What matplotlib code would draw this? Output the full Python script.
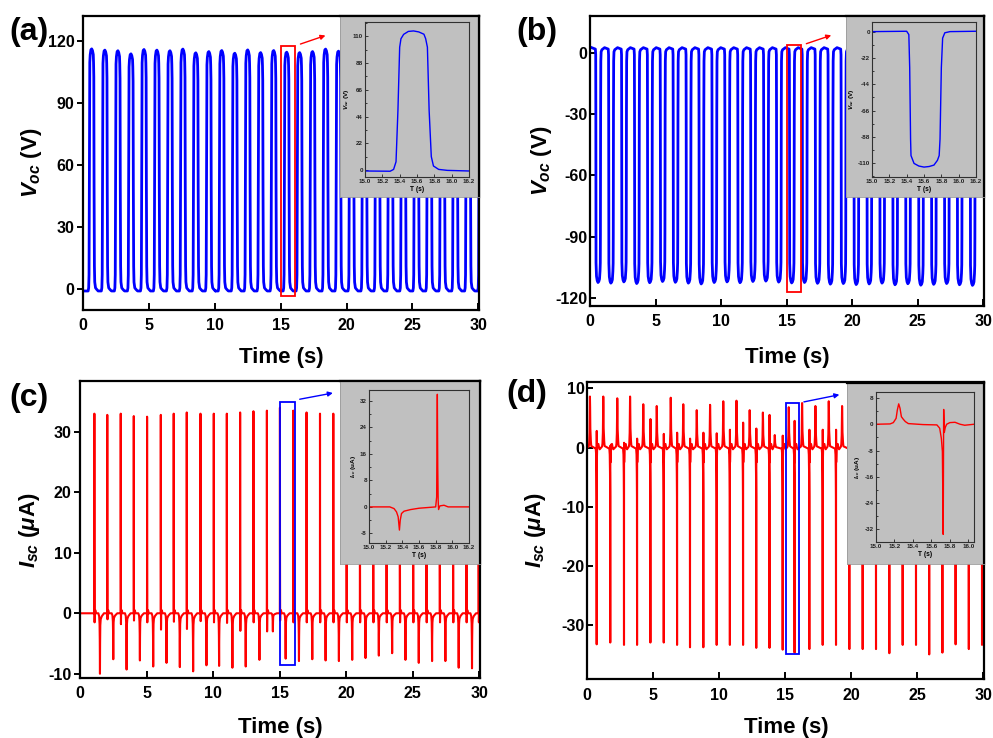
import numpy as np
import matplotlib
matplotlib.use('Agg')
import matplotlib.pyplot as plt
from matplotlib.ticker import AutoMinorLocator

plt.rcParams['font.family'] = ['Liberation Sans', 'DejaVu Sans']
plt.rcParams['font.weight'] = 'bold'
plt.rcParams['axes.unicode_minus'] = False
plt.rcParams['mathtext.fontset'] = 'custom'
plt.rcParams['mathtext.it'] = 'Liberation Sans:bold:italic'
plt.rcParams['mathtext.rm'] = 'Liberation Sans:bold'
plt.rcParams['mathtext.bf'] = 'Liberation Sans:bold'

W, H = 993, 738

# ---------------- data ----------------
# (a) Voc, one pulse as seen in the inset (15.0 - 16.2 s)
a_in_t = [15.00, 15.29, 15.33, 15.358, 15.38, 15.40, 15.415, 15.446, 15.50, 15.56,
          15.62, 15.68, 15.70, 15.72, 15.74, 15.765, 15.79, 15.85, 15.95, 16.20]
a_in_v = [-0.8, -1.0, 0.5, 6.8, 49, 101, 108, 111.6, 114, 114.4,
          113.6, 111.7, 108, 101, 49, 11, 3.3, 0.5, -0.3, -0.8]
a_centers = [0.66, 1.66, 2.65, 3.64, 4.63, 5.61, 6.60, 7.58, 8.56, 9.55, 10.53,
             11.52, 12.50, 13.48, 14.47, 15.46, 16.44, 17.42, 18.41, 19.39, 20.38,
             21.36, 22.35, 23.33, 24.31, 25.30, 26.28, 27.27, 28.25, 29.23, 30.22]
a_peaks = [116.1, 115.5, 115.2, 113.7, 115.8, 115.5, 115.2, 116.0, 114.2, 114.8, 115.3,
           114.0, 115.6, 114.3, 115.3, 114.5, 114.3, 114.8, 116.0, 115.0, 114.6,
           115.2, 114.4, 115.0, 114.8, 115.4, 114.6, 115.0, 114.5, 115.2, 115.0]

# (b) Voc, reversed connection
b_in_t = [15.00, 15.40, 15.425, 15.435, 15.445, 15.45, 15.485, 15.54, 15.60, 15.66,
          15.715, 15.755, 15.775, 15.785, 15.80, 15.815, 15.84, 15.90, 16.20]
b_in_v = [0.5, 0.8, -2, -30, -90, -104, -110.6, -112.8, -113.7, -113.2,
          -112, -108, -104, -90, -30, -5, -0.5, 0.5, 0.8]
b_centers = [0.62, 1.60, 2.59, 3.57, 4.56, 5.54, 6.52, 7.51, 8.49, 9.48, 10.46,
             11.45, 12.43, 13.42, 14.40, 15.39, 16.37, 17.36, 18.34, 19.33, 20.31,
             21.30, 22.28, 23.27, 24.25, 25.24, 26.22, 27.21, 28.19, 29.18]
b_troughs = [-113.5, -113.8, -113.2, -114.0, -113.6, -113.0, -113.4, -113.8, -114.2, -113.5,
             -113.2, -113.6, -113.0, -112.8, -113.3, -113.7, -113.5, -113.9, -114.3, -114.0,
             -114.5, -114.2, -113.8, -114.6, -114.1, -114.8, -114.4, -114.0, -114.6, -114.9]

# (c) Isc, forward connection, inset trace
c_in_t = [15.00, 15.25, 15.30, 15.33, 15.35, 15.365, 15.375, 15.39, 15.42, 15.50, 15.60,
          15.70, 15.80, 15.812, 15.815, 15.82, 15.825, 15.83, 15.835, 15.85, 15.90, 15.95, 16.20]
c_in_v = [0.0, 0.0, -0.5, -1.5, -3.0, -7.0, -4.0, -2.0, -1.3, -0.8, -0.4,
          -0.2, 0.0, 3.0, 17.0, 34.0, 12.0, 2.0, -0.8, 0.3, 0.5, 0.0, 0.0]
c_pos_t = [1.08, 2.05, 3.06, 4.04, 5.04, 6.07, 7.04, 8.02, 9.05, 10.05, 11.03, 12.03,
           13.03, 14.04, 15.02, 16.02, 17.02, 18.03, 19.03, 20.03, 21.03, 22.03, 23.03,
           24.03, 25.03, 26.03, 27.03, 28.03, 29.03, 29.95]
c_pos_v = [33.0, 32.8, 33.0, 32.6, 32.5, 32.8, 33.0, 33.2, 33.0, 33.0, 33.0, 33.2,
           33.4, 33.5, 34.0, 33.5, 33.2, 33.0, 33.0, 33.0, 33.0, 33.0, 33.0,
           33.0, 33.0, 33.0, 33.0, 33.0, 33.0, 33.0]
c_under = [-1.5, -1.0, -1.8, -1.2, -1.5, -2.7, -1.4, -2.6, -1.3, -1.5, -1.6, -2.9,
           -1.5, -3.0, -1.2, -1.5, -1.5, -1.5, -1.5, -1.5, -1.5, -1.5, -1.5,
           -1.5, -1.5, -1.5, -1.5, -1.5, -1.5, -1.5]
c_neg_t = [1.50, 2.50, 3.50, 4.50, 5.50, 6.50, 7.50, 8.50, 9.50, 10.45, 11.45, 12.45,
           13.48, 14.49, 15.45, 16.45, 17.45, 18.45, 19.45, 20.45, 21.45, 22.45, 23.45,
           24.45, 25.45, 26.45, 27.45, 28.45, 29.45]
c_neg_v = [-10.0, -7.6, -9.3, -7.8, -8.8, -8.2, -8.9, -9.6, -8.6, -8.7, -9.0, -8.8,
           -7.7, -3.0, -7.5, -7.9, -7.6, -7.8, -7.9, -7.7, -7.4, -7.0, -6.6,
           -7.7, -8.2, -7.9, -7.9, -9.0, -9.1]

# (d) Isc, reversed connection, inset trace
d_in_t = [15.00, 15.155, 15.19, 15.22, 15.233, 15.248, 15.262, 15.277, 15.298, 15.32, 15.352,
          15.51, 15.66, 15.69, 15.708, 15.719, 15.728, 15.733, 15.74, 15.75, 15.765, 15.80,
          15.855, 15.91, 15.96, 16.06]
d_in_v = [0.0, 0.1, 0.5, 1.8, 4.3, 6.2, 4.9, 2.3, 1.5, 0.8, 0.2,
          -0.1, -0.2, -1.2, -4.3, -8.3, -33.5, 4.5, -2.5, -1.0, 0.0, 0.5,
          0.6, 0.0, -0.3, 0.0]
d_pos_t = [0.20, 1.21, 2.27, 3.24, 4.24, 5.26, 6.32, 7.27, 8.29, 9.30, 10.30, 11.30,
           12.30, 13.30, 14.20, 15.26, 16.27, 17.28, 18.29, 19.30, 20.31, 21.32, 22.33,
           23.34, 24.35, 25.36, 26.37, 27.38, 28.39, 29.40]
d_pos_v = [8.6, 8.6, 8.3, 8.6, 7.3, 7.0, 8.4, 7.3, 6.3, 7.2, 7.8, 7.9,
           6.3, 5.9, 2.1, 6.8, 7.5, 7.0, 7.8, 7.0, 7.0, 7.0, 7.0,
           7.0, 7.0, 7.0, 7.0, 7.0, 7.0, 7.0]
d_neg_t = [0.71, 1.74, 2.78, 3.77, 4.78, 5.79, 6.80, 7.78, 8.79, 9.80, 10.80, 11.80,
           12.80, 13.80, 14.80, 15.70, 16.82, 17.83, 18.84, 19.85, 20.86, 21.87, 22.88,
           23.89, 24.90, 25.90, 26.90, 27.90, 28.90, 29.90]
d_neg_v = [-33.2, -32.9, -33.3, -33.3, -32.9, -32.9, -33.3, -33.7, -33.7, -33.3, -33.3, -33.3,
           -33.8, -33.8, -34.1, -34.6, -34.0, -33.3, -33.3, -34.0, -34.0, -34.0, -34.7,
           -33.3, -33.3, -34.9, -34.6, -33.2, -34.0, -33.3]
d_small_v = [2.8, 0.3, 0.8, 1.5, 4.8, 2.3, 2.5, 1.5, 2.5, 2.4, 3.0, 4.2,
             3.2, 5.5, 2.0, 4.5, 3.0, 3.0, 3.0, 3.0, 3.0, 3.0, 3.0,
             3.0, 3.0, 3.0, 3.0, 3.0, 3.0, 3.0]

xticks_main = [0, 5, 10, 15, 20, 25, 30]
inset_xticks = [15.0, 15.2, 15.4, 15.6, 15.8, 16.0, 16.2]
inset_xticks_d = [15.0, 15.2, 15.4, 15.6, 15.8, 16.0]


# ---------------- helpers ----------------
def pulses(tmpl_t, tmpl_v, tmpl_c, tmpl_peak, centers, peaks, half, base):
    rel = np.array(tmpl_t) - tmpl_c
    v = np.array(tmpl_v)
    keep = np.abs(rel) < half
    tt, vv = [], []
    for c, p in zip(centers, peaks):
        tt += [c - half] + list(c + rel[keep]) + [c + half]
        vv += [base] + list(v[keep] * p / tmpl_peak) + [base]
    return np.array(tt), np.array(vv)


def events(pieces):
    pts = []
    for t0, rel, vals in pieces:
        pts += [(t0 + r, v) for r, v in zip(rel, vals)]
    pts.append((0.0, 0.0))
    pts.append((30.2, 0.0))
    pts.sort()
    return np.array([p[0] for p in pts]), np.array([p[1] for p in pts])


def box(l, t, r, b):
    return [l / W, 1 - b / H, (r - l) / W, (b - t) / H]


def style_main(ax, ydir):
    for s in ax.spines.values():
        s.set_linewidth(1.6)
    ax.set_xlim(0, 30.05)
    ax.set_xticks(xticks_main)
    ax.tick_params(axis='x', direction='in', length=5, width=1.4, labelsize=11.5, pad=6)
    ax.tick_params(axis='y', direction=ydir, length=4, width=1.4, labelsize=11.5, pad=2)
    for lab in ax.get_xticklabels() + ax.get_yticklabels():
        lab.set_fontweight('bold')


def add_inset(bg_rect, in_rect, t, v, color, xlim, ylim, yticks, xticks, ylabel):
    bg = fig.add_axes(bg_rect)
    bg.set_facecolor('#c0c0c0')
    bg.set_xticks([])
    bg.set_yticks([])
    for k in ['left', 'bottom']:
        bg.spines[k].set_color('#9a9a9a')
        bg.spines[k].set_linewidth(0.6)
    for k in ['top', 'right']:
        bg.spines[k].set_color('black')
        bg.spines[k].set_linewidth(1.6)
    ax = fig.add_axes(in_rect)
    ax.set_facecolor('#c0c0c0')
    ax.plot(t, v, color=color, lw=1.0)
    ax.set_xlim(*xlim)
    ax.set_ylim(*ylim)
    ax.set_xticks(xticks)
    ax.set_yticks(yticks)
    ax.yaxis.set_minor_locator(AutoMinorLocator(2))
    for s in ax.spines.values():
        s.set_color('#303030')
        s.set_linewidth(0.8)
    ax.tick_params(axis='both', which='major', direction='in', length=2, width=0.6,
                   labelsize=4.5, pad=1.5, colors='#202020')
    ax.tick_params(axis='both', which='minor', direction='in', length=1.2, width=0.5)
    ax.set_xticklabels(['%.1f' % x for x in xticks], fontweight='bold')
    ax.set_yticklabels([str(y) for y in yticks], fontweight='bold')
    ax.set_xlabel('T (s)', fontsize=4.8, fontweight='bold', labelpad=1.5)
    ax.set_ylabel(ylabel, fontsize=4.6, fontweight='bold', labelpad=1.5)
    return ax


fig = plt.figure(figsize=(W / 100, H / 100), dpi=100)

# ---------------- (a) ----------------
ax_a = fig.add_axes(box(83, 16, 479, 310))
ta, va = pulses(a_in_t, a_in_v, 15.56, 114.4, a_centers, a_peaks, 0.49, -1.0)
ax_a.plot(ta, va, color='#0000ff', lw=2.0)
ax_a.set_ylim(-10.2, 132)
ax_a.set_yticks([0, 30, 60, 90, 120])
style_main(ax_a, 'out')
ax_a.add_patch(plt.Rectangle((15.0, -3.4), 1.1, 121.0, fill=False, ec='red', lw=1.3, zorder=5))
ax_a.annotate('', xy=(18.6, 123), xytext=(16.3, 118),
              arrowprops=dict(arrowstyle='-|>', color='red', lw=1.0, mutation_scale=7))
add_inset(box(340, 16, 479, 197), box(365, 21.7, 469, 176.7), a_in_t, a_in_v, '#0000ff',
          (15.0, 16.2), (-5.5, 122), [0, 22, 44, 66, 88, 110], inset_xticks, r'$V_{oc}$ (V)')

# ---------------- (b) ----------------
ax_b = fig.add_axes(box(590, 16, 984, 306))
tb, vb = pulses(b_in_t, b_in_v, 15.61, -113.7, b_centers, b_troughs, 0.49, 1.5)
vb = vb + 1.0
ax_b.plot(tb, vb, color='#0000ff', lw=2.0)
ax_b.set_ylim(-124, 18)
ax_b.set_yticks([-120, -90, -60, -30, 0])
style_main(ax_b, 'in')
ax_b.add_patch(plt.Rectangle((15.0, -117), 1.1, 121.0, fill=False, ec='red', lw=1.3, zorder=5))
ax_b.annotate('', xy=(18.6, 9), xytext=(16.3, 4),
              arrowprops=dict(arrowstyle='-|>', color='red', lw=1.0, mutation_scale=7))
add_inset(box(846, 16, 984, 197), box(872, 22, 976, 176.7), b_in_t, b_in_v, '#0000ff',
          (15.0, 16.2), (-121.8, 8.6), [-110, -88, -66, -44, -22, 0], inset_xticks, r'$V_{oc}$ (V)')

# ---------------- (c) ----------------
ax_c = fig.add_axes(box(80, 381, 480, 678))
pos_rel = [-0.008, -0.005, -0.002, 0.0, 0.005, 0.010, 0.016, 0.03, 0.08, 0.13]
pos_frac = [0.0, 0.09, 0.5, 1.0, 0.35, 0.06, None, 0.01, 0.015, 0.0]
neg_rel = [-0.12, -0.06, -0.03, -0.015, 0.0, 0.01, 0.025, 0.055, 0.135, 0.235, 0.30]
neg_frac = [0.0, 0.05, 0.18, 0.43, 1.0, 0.5, 0.2, 0.1, 0.05, 0.02, 0.0]
pieces = []
for t0, h, u in zip(c_pos_t, c_pos_v, c_under):
    pieces.append((t0, pos_rel, [u if f is None else f * h for f in pos_frac]))
for t0, d in zip(c_neg_t, c_neg_v):
    pieces.append((t0, neg_rel, [f * d for f in neg_frac]))
tc, vc = events(pieces)
ax_c.plot(tc, vc, color='#ff0000', lw=1.5)
ax_c.set_ylim(-10.7, 38.4)
ax_c.set_yticks([-10, 0, 10, 20, 30])
style_main(ax_c, 'out')
ax_c.add_patch(plt.Rectangle((15.04, -8.5), 1.1, 43.5, fill=False, ec='blue', lw=1.3, zorder=5))
ax_c.annotate('', xy=(19.2, 36.5), xytext=(16.3, 35.3),
              arrowprops=dict(arrowstyle='-|>', color='blue', lw=1.0, mutation_scale=7))
add_inset(box(340, 381, 480, 564), box(369, 390, 469, 543), c_in_t, c_in_v, '#ff0000',
          (15.0, 16.2), (-10.9, 35.3), [-8, 0, 8, 16, 24, 32], inset_xticks, r'$I_{sc}$ (uA)')

# ---------------- (d) ----------------
ax_d = fig.add_axes(box(587.3, 382.3, 984, 679.3))
big_rel = [-0.09, -0.06, -0.03, -0.015, 0.0, 0.014, 0.03, 0.05, 0.07, 0.10]
big_frac = [0.02, 0.08, 0.29, 0.69, 1.0, 0.79, 0.37, 0.24, 0.13, 0.03]
dn_rel = [-0.07, -0.04, -0.02, -0.009, 0.0, 0.005, 0.012, 0.022, 0.037, 0.07, 0.13, 0.18, 0.23]
dn_vals = [-0.2, -1.2, -4.3, -8.3, None, 'S', -2.5, -1.0, 0.0, 0.5, 0.6, 0.0, -0.3]
pieces = []
for t0, h in zip(d_pos_t, d_pos_v):
    pieces.append((t0, big_rel, [f * h for f in big_frac]))
for t0, d, s in zip(d_neg_t, d_neg_v, d_small_v):
    vals = [d if x is None else (s if x == 'S' else x) for x in dn_vals]
    pieces.append((t0, dn_rel, vals))
td, vd = events(pieces)
ax_d.plot(td, vd, color='#ff0000', lw=1.5)
ax_d.set_ylim(-39.1, 11)
ax_d.set_yticks([-30, -20, -10, 0, 10])
style_main(ax_d, 'in')
ax_d.add_patch(plt.Rectangle((15.05, -34.8), 1.0, 42.3, fill=False, ec='blue', lw=1.3, zorder=5))
ax_d.annotate('', xy=(19.3, 9.0), xytext=(16.2, 7.6),
              arrowprops=dict(arrowstyle='-|>', color='blue', lw=1.0, mutation_scale=7))
add_inset(box(846.7, 383.3, 984, 564), box(875.7, 391.7, 974, 542.3), d_in_t, d_in_v, '#ff0000',
          (15.0, 16.06), (-35.9, 9.9), [-32, -24, -16, -8, 0, 8], inset_xticks_d, r'$I_{sc}$ (uA)')

# ---------------- labels ----------------
for (x, y, s) in [(29, 32, '(a)'), (537, 32, '(b)'), (29, 398, '(c)'), (527, 394, '(d)')]:
    fig.text(x / W, 1 - y / H, s, fontsize=23, fontweight='bold', ha='center', va='center')
for (x, y) in [(281, 357), (787, 357), (280, 727), (786, 727)]:
    fig.text(x / W, 1 - y / H, 'Time (s)', fontsize=16, fontweight='bold', ha='center', va='center')
for (x, y) in [(32, 163), (541, 161)]:
    fig.text(x / W, 1 - y / H, r'$V_{oc}$ (V)', fontsize=16, fontweight='bold',
             rotation=90, ha='center', va='center')
for (x, y) in [(29, 530), (536, 530)]:
    fig.text(x / W, 1 - y / H, r'$I_{sc}$ ($\mu$A)', fontsize=16, fontweight='bold',
             rotation=90, ha='center', va='center')

fig.savefig('out.png', dpi=100, facecolor='white')
